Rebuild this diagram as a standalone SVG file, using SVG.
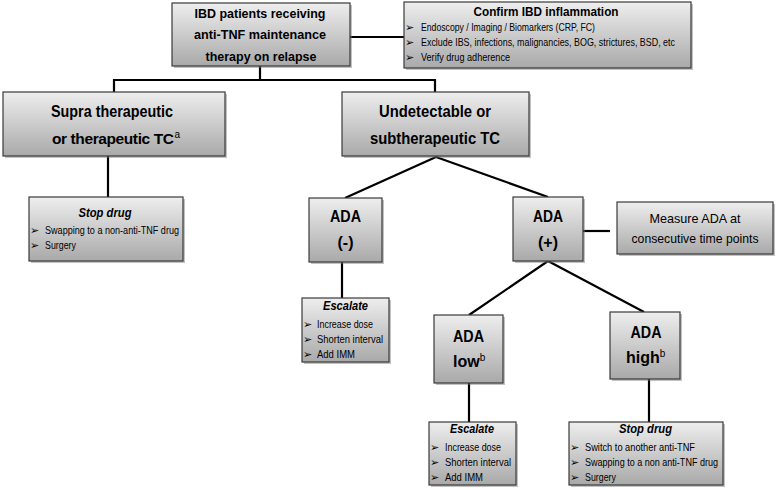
<svg xmlns="http://www.w3.org/2000/svg" width="776" height="488" viewBox="0 0 776 488">
<defs>
<linearGradient id="g" x1="0" y1="0" x2="0" y2="1">
<stop offset="0" stop-color="#eeeeee"/>
<stop offset="1" stop-color="#a9a9a9"/>
</linearGradient>
</defs>
<style>
.box{fill:url(#g);stroke:#3a3a3a;stroke-width:1.2}
.sh{fill:#777;opacity:0.45}
.ln{stroke:#000;stroke-width:2.2;fill:none}
text{font-family:"Liberation Sans",Arial,sans-serif;fill:#000}
.t{font-size:13px;font-weight:bold;text-anchor:middle}
.big{font-size:16px;font-weight:bold;text-anchor:middle}
.h{font-size:13px;font-weight:bold;font-style:italic;text-anchor:middle}
.it{font-size:10.5px}
.bu{font-family:"DejaVu Sans",sans-serif;font-size:11px}
.m{font-size:13px;text-anchor:middle}
.sup{font-size:10px;font-weight:normal;letter-spacing:0}
</style>
<rect width="776" height="488" fill="#fff"/>
<g id="connectors">
<path class="ln" d="M350,37 H404"/>
<path class="ln" d="M260,66 V80 M114,80 H435 M114,79 V92 M435,79 V92"/>
<path class="ln" d="M108,156 V197"/>
<path class="ln" d="M436,157 L345,198 M436,157 L548,197"/>
<path class="ln" d="M342,262 V298"/>
<path class="ln" d="M583,231 H610"/>
<path class="ln" d="M548,261 L469,315 M548,261 L644,312"/>
<path class="ln" d="M469,383 V422"/>
<path class="ln" d="M649,379 V422"/>
</g>
<g id="n-root">
<rect class="sh" x="174" y="5" width="178" height="63"/>
<rect class="box" x="172" y="3" width="178" height="63"/>
<text class="t" x="260" y="18" textLength="131" lengthAdjust="spacingAndGlyphs">IBD patients receiving</text>
<text class="t" x="260" y="39" textLength="132" lengthAdjust="spacingAndGlyphs">anti-TNF maintenance</text>
<text class="t" x="261" y="61" textLength="111" lengthAdjust="spacingAndGlyphs">therapy on relapse</text>
</g>
<g id="n-confirm">
<rect class="sh" x="406" y="4" width="287" height="66"/>
<rect class="box" x="404" y="2" width="287" height="66"/>
<text class="t" x="546" y="16" textLength="145" lengthAdjust="spacingAndGlyphs">Confirm IBD inflammation</text>
<text class="bu" x="405" y="31">➢</text>
<text class="it" x="421" y="31" textLength="174" lengthAdjust="spacingAndGlyphs">Endoscopy / Imaging / Biomarkers (CRP, FC)</text>
<text class="bu" x="405" y="46">➢</text>
<text class="it" x="421" y="46" textLength="254" lengthAdjust="spacingAndGlyphs">Exclude  IBS, infections, malignancies, BOG, strictures, BSD, etc</text>
<text class="bu" x="405" y="61">➢</text>
<text class="it" x="421" y="61" textLength="89" lengthAdjust="spacingAndGlyphs">Verify drug adherence</text>
</g>
<g id="n-supra">
<rect class="sh" x="5" y="94" width="222" height="64"/>
<rect class="box" x="3" y="92" width="222" height="64"/>
<text class="big" x="112" y="117" textLength="122" lengthAdjust="spacingAndGlyphs">Supra therapeutic</text>
<text x="52" y="144" font-size="15.5" font-weight="bold" letter-spacing="-0.4">or therapeutic TC<tspan class="sup" dx="1" dy="-6">a</tspan></text>
</g>
<g id="n-undet">
<rect class="sh" x="344" y="94" width="187" height="64"/>
<rect class="box" x="342" y="92" width="187" height="64"/>
<text class="big" x="435" y="117" textLength="112" lengthAdjust="spacingAndGlyphs">Undetectable or</text>
<text class="big" x="435" y="144" textLength="130" lengthAdjust="spacingAndGlyphs">subtherapeutic TC</text>
</g>
<g id="n-stop1">
<rect class="sh" x="31" y="199" width="154" height="64"/>
<rect class="box" x="29" y="197" width="154" height="64"/>
<text class="h" x="105" y="217" textLength="53" lengthAdjust="spacingAndGlyphs">Stop drug</text>
<text class="bu" x="30" y="234">➢</text>
<text class="it" x="45" y="234" textLength="134" lengthAdjust="spacingAndGlyphs">Swapping to a non-anti-TNF drug</text>
<text class="bu" x="30" y="249">➢</text>
<text class="it" x="45" y="249" textLength="31" lengthAdjust="spacingAndGlyphs">Surgery</text>
</g>
<g id="n-adaneg">
<rect class="sh" x="311" y="200" width="73" height="64"/>
<rect class="box" x="309" y="198" width="73" height="64"/>
<text class="big" x="345.5" y="222" textLength="31" lengthAdjust="spacingAndGlyphs">ADA</text>
<text class="big" x="345.5" y="248">(-)</text>
</g>
<g id="n-esc1">
<rect class="sh" x="304" y="300" width="87" height="64"/>
<rect class="box" x="302" y="298" width="87" height="64"/>
<text class="h" x="345.5" y="310" textLength="45" lengthAdjust="spacingAndGlyphs">Escalate</text>
<text class="bu" x="303" y="328">➢</text>
<text class="it" x="317" y="328" textLength="56" lengthAdjust="spacingAndGlyphs">Increase dose</text>
<text class="bu" x="303" y="343">➢</text>
<text class="it" x="317" y="343" textLength="66" lengthAdjust="spacingAndGlyphs">Shorten interval</text>
<text class="bu" x="303" y="358">➢</text>
<text class="it" x="317" y="358" textLength="38" lengthAdjust="spacingAndGlyphs">Add IMM</text>
</g>
<g id="n-adapos">
<rect class="sh" x="515" y="199" width="70" height="64"/>
<rect class="box" x="513" y="197" width="70" height="64"/>
<text class="big" x="548" y="222" textLength="30" lengthAdjust="spacingAndGlyphs">ADA</text>
<text class="big" x="548" y="248">(+)</text>
</g>
<g id="n-measure">
<rect class="sh" x="619" y="204" width="156" height="52"/>
<rect class="box" x="617" y="202" width="156" height="52"/>
<text class="m" x="695" y="223" textLength="91" lengthAdjust="spacingAndGlyphs">Measure  ADA at</text>
<text class="m" x="695" y="243" textLength="127" lengthAdjust="spacingAndGlyphs">consecutive time points</text>
</g>
<g id="n-adalow">
<rect class="sh" x="436" y="317" width="69" height="68"/>
<rect class="box" x="434" y="315" width="69" height="68"/>
<text class="big" x="468.5" y="342" textLength="31" lengthAdjust="spacingAndGlyphs">ADA</text>
<text x="453" y="367" font-size="16" font-weight="bold">low<tspan class="sup" dy="-6">b</tspan></text>
</g>
<g id="n-adahigh">
<rect class="sh" x="612" y="314" width="70" height="67"/>
<rect class="box" x="610" y="312" width="70" height="67"/>
<text class="big" x="646" y="338" textLength="31" lengthAdjust="spacingAndGlyphs">ADA</text>
<text x="626" y="363" font-size="16" font-weight="bold">high<tspan class="sup" dy="-6">b</tspan></text>
</g>
<g id="n-esc2">
<rect class="sh" x="431" y="424" width="87" height="63"/>
<rect class="box" x="429" y="422" width="87" height="63"/>
<text class="h" x="472" y="433" textLength="44" lengthAdjust="spacingAndGlyphs">Escalate</text>
<text class="bu" x="430" y="451">➢</text>
<text class="it" x="445" y="451" textLength="56" lengthAdjust="spacingAndGlyphs">Increase dose</text>
<text class="bu" x="430" y="466">➢</text>
<text class="it" x="445" y="466" textLength="66" lengthAdjust="spacingAndGlyphs">Shorten interval</text>
<text class="bu" x="430" y="481">➢</text>
<text class="it" x="445" y="481" textLength="38" lengthAdjust="spacingAndGlyphs">Add IMM</text>
</g>
<g id="n-stop2">
<rect class="sh" x="571" y="424" width="154" height="63"/>
<rect class="box" x="569" y="422" width="154" height="63"/>
<text class="h" x="645.5" y="433" textLength="53" lengthAdjust="spacingAndGlyphs">Stop drug</text>
<text class="bu" x="570" y="451">➢</text>
<text class="it" x="585" y="451" textLength="110" lengthAdjust="spacingAndGlyphs">Switch to another anti-TNF</text>
<text class="bu" x="570" y="466">➢</text>
<text class="it" x="585" y="466" textLength="133" lengthAdjust="spacingAndGlyphs">Swapping to a non anti-TNF drug</text>
<text class="bu" x="570" y="481">➢</text>
<text class="it" x="585" y="481" textLength="31" lengthAdjust="spacingAndGlyphs">Surgery</text>
</g>
</svg>
